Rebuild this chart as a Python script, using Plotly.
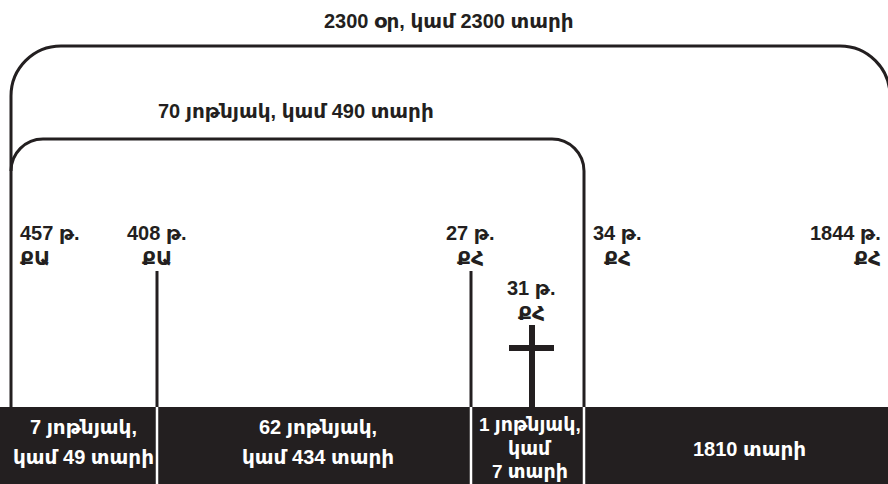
import plotly.graph_objects as go

# ---- data ----
years = ["457", "408", "27", "31", "34", "1844"]
eras = ["ՔԱ", "ՔԱ", "ՔՀ", "ՔՀ", "ՔՀ", "ՔՀ"]
year_word = "թ."
segment_labels = [
    ["7 յոթնյակ,", "կամ 49 տարի"],
    ["62 յոթնյակ,", "կամ 434 տարի"],
    ["1 յոթնյակ,", "կամ", "7 տարի"],
    ["1810 տարի"],
]
outer_label = "2300 օր, կամ 2300 տարի"
inner_label = "70 յոթնյակ, կամ 490 տարի"

# ---- layout (schematic positions, pixels) ----
W, H = 888, 484
event_x = [11, 157, 471, 532, 584, 890]
label_x = [18, 157, 470, 531, 617, 883]
label_anchor = ["left", "center", "center", "center", "center", "right"]
label_y = [233, 233, 233, 288, 233, 233]
LINE_GAP = 25
seg_text_x = [83, 318, 530, 749]
seg_text_y = [[427, 457], [427, 457], [424, 448, 471], [449]]
seg_font = [20, 20, 19, 20]
BAR_TOP = 407
DARK = "#231f20"
FONT = "Liberation Sans, Arial, DejaVu Sans, sans-serif"
FS = 20

fig = go.Figure()
fig.add_trace(go.Scatter(x=[0, W], y=[0, H], mode="markers",
                         marker=dict(opacity=0), hoverinfo="skip", showlegend=False))

shapes = []
# dark bar
shapes.append(dict(type="rect", x0=0, x1=W, y0=BAR_TOP, y1=H,
                   fillcolor=DARK, line=dict(width=0), layer="below"))

k = 0.5523

# outer bracket
xl, xr, yt, r = event_x[0], event_x[5], 46, 50
outer = (f"M {xl},{BAR_TOP} L {xl},{yt + r} "
         f"C {xl},{yt + r - k * r} {xl + r - k * r},{yt} {xl + r},{yt} "
         f"L {xr - r},{yt} "
         f"C {xr - r + k * r},{yt} {xr},{yt + r - k * r} {xr},{yt + r} "
         f"L {xr},{H}")
shapes.append(dict(type="path", path=outer, line=dict(color=DARK, width=3)))

# inner bracket
xl2, xr2, yt2, r2 = event_x[0], event_x[4], 139, 32
inner = (f"M {xl2},{yt2 + r2} "
         f"C {xl2},{yt2 + r2 - k * r2} {xl2 + r2 - k * r2},{yt2} {xl2 + r2},{yt2} "
         f"L {xr2 - r2},{yt2} "
         f"C {xr2 - r2 + k * r2},{yt2} {xr2},{yt2 + r2 - k * r2} {xr2},{yt2 + r2} "
         f"L {xr2},{BAR_TOP}")
shapes.append(dict(type="path", path=inner, line=dict(color=DARK, width=3)))

# event ticks
for xi in (event_x[1], event_x[2]):
    shapes.append(dict(type="line", x0=xi, x1=xi, y0=271, y1=BAR_TOP,
                       line=dict(color=DARK, width=3)))

# cross
cx = event_x[3]
shapes.append(dict(type="line", x0=cx, x1=cx, y0=325, y1=BAR_TOP,
                   line=dict(color=DARK, width=6)))
shapes.append(dict(type="line", x0=cx - 23, x1=cx + 22, y0=348, y1=348,
                   line=dict(color=DARK, width=6)))

# white separators in bar
for xi in (event_x[1], event_x[2], event_x[4]):
    shapes.append(dict(type="line", x0=xi, x1=xi, y0=BAR_TOP, y1=H,
                       line=dict(color="white", width=2.5)))

ann = []
ann.append(dict(x=449, y=21, text=outer_label))
ann.append(dict(x=296, y=111, text=inner_label))
for i in range(len(years)):
    ann.append(dict(x=label_x[i], y=label_y[i], text=f"{years[i]} {year_word}",
                    xanchor=label_anchor[i]))
    ann.append(dict(x=label_x[i], y=label_y[i] + LINE_GAP, text=eras[i],
                    xanchor=label_anchor[i]))
for i, lines in enumerate(segment_labels):
    for j, t in enumerate(lines):
        ann.append(dict(x=seg_text_x[i], y=seg_text_y[i][j], text=t,
                        font=dict(color="white", size=seg_font[i], family=FONT)))

for a in ann:
    a.setdefault("xanchor", "center")
    a.setdefault("yanchor", "middle")
    a.setdefault("font", dict(color=DARK, size=FS, family=FONT))
    a["text"] = f"<b>{a['text']}</b>"
    a.update(xref="x", yref="y", showarrow=False)

fig.update_layout(
    width=W, height=H, margin=dict(l=0, r=0, t=0, b=0),
    paper_bgcolor="white", plot_bgcolor="white",
    xaxis=dict(range=[0, W], visible=False, fixedrange=True),
    yaxis=dict(range=[H, 0], visible=False, fixedrange=True),
    shapes=shapes, annotations=ann, showlegend=False,
)
fig.write_html("out.html", config={"displayModeBar": False},
               post_script="document.body.style.margin='0';document.body.style.overflow='hidden';")
